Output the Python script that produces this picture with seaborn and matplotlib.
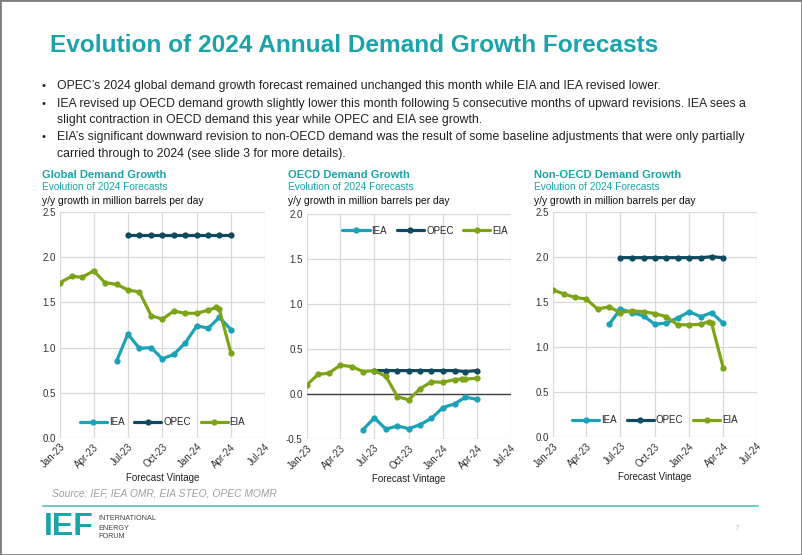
import numpy as np
import pandas as pd
import matplotlib.pyplot as plt
import matplotlib.dates as mdates
import seaborn as sns
from matplotlib.patches import Rectangle

# Forecast vintages (monthly); EIA has one extra release in late Feb-24
months = pd.date_range("2023-01-01", "2024-04-01", freq="MS")
eia_dates = list(months[:14]) + [pd.Timestamp("2024-02-22")] + list(months[14:])
iea_dates = list(months[5:])
opec_dates = list(months[6:])

# Global demand growth, mb/d
global_eia = [1.72, 1.79, 1.78, 1.85, 1.72, 1.70, 1.64, 1.615, 1.355, 1.315, 1.405, 1.38,
              1.38, 1.415, 1.445, 1.425, 0.94]
global_iea = [0.85, 1.15, 0.99, 1.00, 0.875, 0.925, 1.05, 1.24, 1.215, 1.335, 1.20]
global_opec = [2.25, 2.25, 2.25, 2.25, 2.25, 2.25, 2.25, 2.25, 2.25, 2.25]

# OECD demand growth
oecd_eia = [0.10, 0.22, 0.23, 0.32, 0.305, 0.25, 0.26, 0.195, -0.03, -0.065, 0.06, 0.135,
            0.13, 0.16, 0.165, 0.165, 0.175]
oecd_iea = [-0.395, -0.265, -0.39, -0.355, -0.385, -0.34, -0.27, -0.15, -0.11, -0.035, -0.06]
oecd_opec = [0.26, 0.26, 0.26, 0.26, 0.26, 0.26, 0.26, 0.26, 0.25, 0.26]

# Non-OECD demand growth
nonoecd_eia = [1.635, 1.585, 1.55, 1.53, 1.42, 1.445, 1.38, 1.40, 1.39, 1.37, 1.335, 1.245,
               1.245, 1.25, 1.28, 1.26, 0.765]
nonoecd_iea = [1.25, 1.42, 1.38, 1.345, 1.25, 1.265, 1.32, 1.39, 1.335, 1.38, 1.26]
nonoecd_opec = [1.99, 1.99, 1.99, 1.99, 1.99, 1.99, 1.99, 1.99, 2.00, 1.99]

panel_titles = ["Global Demand Growth", "OECD Demand Growth", "Non-OECD Demand Growth"]
tick_dates = pd.date_range("2023-01-01", "2024-07-01", freq="QS")

TEAL = "#1aa3a8"
colors = {"IEA": "#1ba2b6", "OPEC": "#0f4a5e", "EIA": "#7da417"}

sns.set_style("white")
plt.rcParams["font.family"] = ["Liberation Sans", "DejaVu Sans"]

fig = plt.figure(figsize=(8.02, 5.55), dpi=100)
W, H = 802, 555


def fx(px):
    return px / W


def fy(py):
    return 1 - py / H


# slide title and bullets
fig.text(fx(50), fy(46), "Evolution of 2024 Annual Demand Growth Forecasts", color=TEAL,
         fontsize=17.6, fontweight="bold", va="center")
bullets = [
    (86, "OPEC\u2019s 2024 global demand growth forecast remained unchanged this month while EIA and IEA revised lower."),
    (104, "IEA revised up OECD demand growth slightly lower this month following 5 consecutive months of upward revisions. IEA sees a"),
    (137, "EIA\u2019s significant downward revision to non-OECD demand was the result of some baseline adjustments that were only partially"),
]
for y, t in bullets:
    fig.text(fx(42), fy(y), "\u2022", fontsize=8, va="center", color="#222222")
    fig.text(fx(57), fy(y), t, fontsize=8.8, va="center", color="#222222")
fig.text(fx(57), fy(120), "slight contraction in OECD demand this year while OPEC and EIA see growth.",
         fontsize=8.8, va="center", color="#222222")
fig.text(fx(57), fy(154), "carried through to 2024 (see slide 3 for more details).",
         fontsize=8.8, va="center", color="#222222")

# panel geometry in pixels: left, right, top, bottom
boxes = [(60, 265, 212.3, 437.7), (306.7, 511, 214, 439), (552.7, 757.3, 211.7, 437)]
title_x = [41.7, 287.7, 534.3]
ylims = [(0, 2.5), (-0.5, 2.0), (0, 2.5)]
legend_pos = [(0.5, 0.07), (0.58, 0.925), (0.5, 0.075)]
series = [
    (global_iea, global_opec, global_eia),
    (oecd_iea, oecd_opec, oecd_eia),
    (nonoecd_iea, nonoecd_opec, nonoecd_eia),
]

for i in range(3):
    l, r, t, b = boxes[i]
    ax = fig.add_axes([fx(l), fy(b), (r - l) / W, (b - t) / H])
    iea, opec, eia = series[i]
    sns.lineplot(x=iea_dates, y=iea, ax=ax, color=colors["IEA"], marker="o", markersize=4.5,
                 markeredgewidth=0, linewidth=2.3, label="IEA")
    sns.lineplot(x=opec_dates, y=opec, ax=ax, color=colors["OPEC"], marker="o", markersize=4.5,
                 markeredgewidth=0, linewidth=2.3, label="OPEC")
    sns.lineplot(x=eia_dates, y=eia, ax=ax, color=colors["EIA"], marker="o", markersize=4.5,
                 markeredgewidth=0, linewidth=2.3, label="EIA")
    ax.set_xlim(tick_dates[0], tick_dates[-1])
    ax.set_ylim(*ylims[i])
    ax.set_yticks(np.arange(ylims[i][0], ylims[i][1] + 0.01, 0.5))
    ax.yaxis.set_major_formatter(plt.FormatStrFormatter("%.1f"))
    ax.set_xticks(tick_dates)
    ax.xaxis.set_major_formatter(mdates.DateFormatter("%b-%y"))
    plt.setp(ax.get_xticklabels(), rotation=45, ha="right", rotation_mode="anchor")
    ax.tick_params(labelsize=7, colors="#333333", length=0, pad=3)
    ax.grid(True, color="#d9d9d9", linewidth=0.9)
    ax.set_axisbelow(True)
    for s in ax.spines.values():
        s.set_visible(False)
    if ylims[i][0] < 0:
        ax.axhline(0, color="#404040", linewidth=1, zorder=1)
    ax.set_xlabel("Forecast Vintage", fontsize=7, color="#222222", labelpad=2)
    ax.set_ylabel("")
    ax.legend(ncol=3, loc="center", bbox_to_anchor=legend_pos[i], frameon=False, fontsize=7,
              handlelength=2.8, columnspacing=1.0, handletextpad=0.2, borderpad=0)
    fig.text(fx(title_x[i]), fy(175), panel_titles[i], color=TEAL, fontsize=8,
             fontweight="bold", va="center")
    fig.text(fx(title_x[i]), fy(187.5), "Evolution of 2024 Forecasts", color=TEAL, fontsize=7.3,
             va="center")
    fig.text(fx(title_x[i]), fy(200.5), "y/y growth in million barrels per day", color="#111111",
             fontsize=7.4, va="center")

# footer
fig.text(fx(52), fy(493), "Source: IEF, IEA OMR, EIA STEO, OPEC MOMR", color="#a0a0a0",
         fontsize=7.4, style="italic", va="center")
fig.add_artist(plt.Line2D([fx(43), fx(758)], [fy(506), fy(506)], color="#5cc6c6", linewidth=1.3))
fig.text(fx(44), fy(527), "IEF", color=TEAL, fontsize=23, fontweight="bold", va="center")
for y, t in [(519, "INTERNATIONAL"), (528, "ENERGY"), (537, "FORUM")]:
    fig.text(fx(98), fy(y), t, color="#444444", fontsize=5.2, va="center")
fig.text(fx(735), fy(528), "7", color="#bbbbbb", fontsize=6, va="center")
fig.add_artist(Rectangle((0, 0), 1, 1, transform=fig.transFigure, fill=False,
                         edgecolor="#7f7f7f", linewidth=2))

fig.savefig("out.png", dpi=100)
